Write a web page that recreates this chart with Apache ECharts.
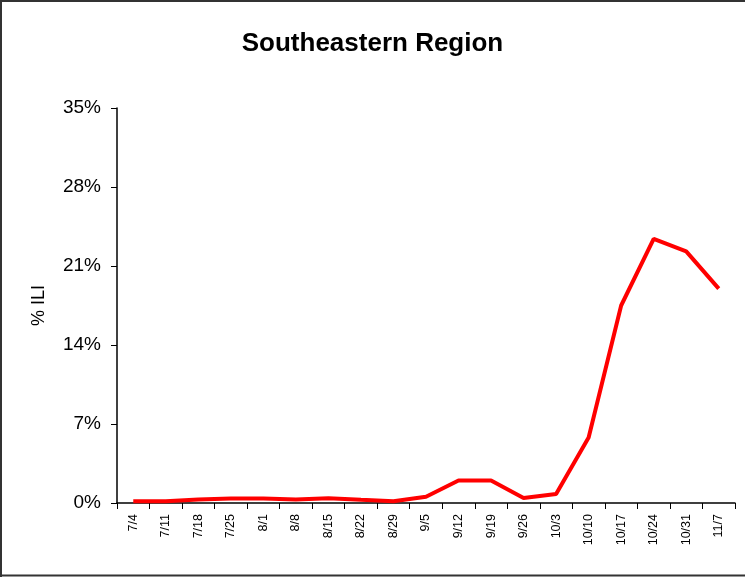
<!DOCTYPE html>
<html>
<head>
<meta charset="utf-8">
<script src="https://cdn.jsdelivr.net/npm/echarts@6/dist/echarts.min.js"></script>
<style>
html,body{margin:0;padding:0;background:#fff;}
#chart{width:745px;height:578px;}
</style>
</head>
<body>
<div id="chart"></div>
<script>
var titleText = 'Southeastern Region';
var yAxisName = '% ILI';
var categories = ['7/4','7/11','7/18','7/25','8/1','8/8','8/15','8/22','8/29','9/5','9/12','9/19','9/26','10/3','10/10','10/17','10/24','10/31','11/7'];
var iliValues = [0.15,0.15,0.3,0.4,0.4,0.3,0.42,0.28,0.15,0.55,2.0,2.0,0.45,0.8,5.8,17.5,23.4,22.3,19.0];
var yTicks = [0,7,14,21,28,35];

var chart = echarts.init(document.getElementById('chart'));
chart.setOption({
  backgroundColor: '#fff',
  animation: false,
  title: {
    text: titleText,
    left: 'center',
    top: 26,
    textStyle: {fontFamily: 'Liberation Sans, Arial', fontWeight: 'bold', fontSize: 26, color: '#000'}
  },
  graphic: [
    {type: 'line', shape: {x1: 1, y1: 0, x2: 1, y2: 577}, style: {stroke: '#333', lineWidth: 2}},
    {type: 'line', shape: {x1: 0, y1: 1, x2: 745, y2: 1}, style: {stroke: '#333', lineWidth: 2}},
    {type: 'line', shape: {x1: 0, y1: 575.5, x2: 745, y2: 575.5}, style: {stroke: '#333', lineWidth: 2}}
  ],
  grid: {left: 117, right: 10, top: 108, bottom: 75},
  xAxis: {
    type: 'category',
    data: categories,
    boundaryGap: true,
    axisLine: {lineStyle: {color: '#000', width: 1.5}},
    axisTick: {show: true, inside: false, length: 6, alignWithLabel: false, lineStyle: {color: '#000'}},
    axisLabel: {rotate: 90, interval: 0, fontFamily: 'Liberation Sans, Arial', fontSize: 12.5, color: '#000', margin: 11}
  },
  yAxis: {
    type: 'value',
    min: 0, max: 35, interval: 7,
    name: yAxisName,
    nameLocation: 'middle',
    nameRotate: 90,
    nameGap: 69,
    nameTextStyle: {fontFamily: 'Liberation Sans, Arial', fontSize: 18, color: '#000'},
    axisLine: {show: true, lineStyle: {color: '#000', width: 1.5}},
    axisTick: {show: true, inside: false, length: 6, lineStyle: {color: '#000'}},
    splitLine: {show: false},
    axisLabel: {formatter: function(v){return yTicks.indexOf(v) >= 0 ? v + '%' : '';}, fontFamily: 'Liberation Sans, Arial', fontSize: 19, color: '#000', margin: 16}
  },
  series: [{
    type: 'line',
    data: iliValues,
    symbol: 'none',
    lineStyle: {color: '#ff0000', width: 4},
    itemStyle: {color: '#ff0000'}
  }]
});
</script>
</body>
</html>
